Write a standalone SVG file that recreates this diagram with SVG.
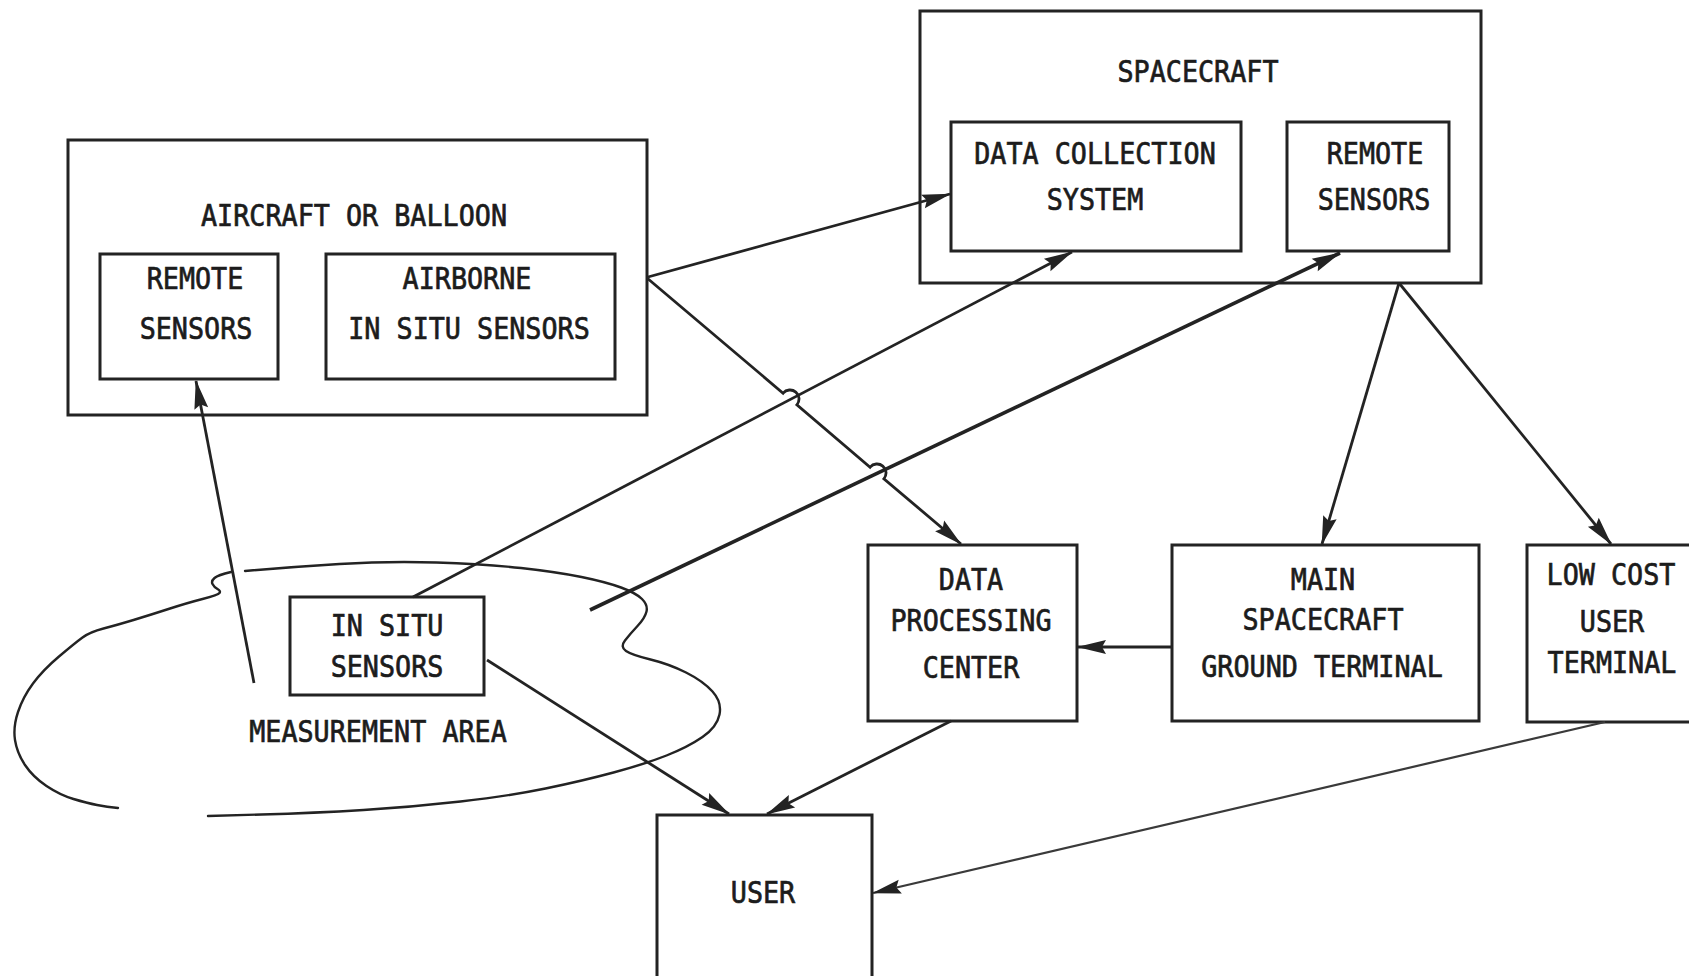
<svg xmlns="http://www.w3.org/2000/svg" width="1689" height="976" viewBox="0 0 1689 976">
<style>
.box{fill:none;stroke:#232323;stroke-width:3}
.ln{fill:none;stroke:#232323;stroke-width:2.8}
.thick{stroke-width:3.6}
.thin{stroke-width:2.2;stroke:#3a3a3a}
.blob{fill:none;stroke:#232323;stroke-width:2.4;stroke-linecap:round}
.t{font-family:"DejaVu Sans Mono","Liberation Mono",monospace;font-size:30px;fill:#1c1c1c;stroke:#1c1c1c;stroke-width:0.7;text-anchor:middle}
</style>
<defs>
<marker id="ah" markerUnits="userSpaceOnUse" viewBox="-32 -9 34 18" markerWidth="34" markerHeight="18" refX="0" refY="0" orient="auto">
<path d="M1,0 L-28,-7 L-24,0 L-28,7 Z" fill="#232323"/>
</marker>
</defs>
<rect width="1689" height="976" fill="#ffffff"/>

<g id="measurement-area">
<path class="blob" d="M245,571 Q291,567 339.5,564 Q388,561 436.5,562.5 Q485,564 521,568 Q557,572 581.5,577 Q606,582 621,587.5 Q636,593 642,599 Q648,605 646.5,611.5 Q645,618 637.5,626 Q630,634 625,640.5 Q620,647 626,651 Q632,655 650.5,659.5 Q669,664 686,672.5 Q703,681 712.5,691.5 Q722,702 719.5,714.5 Q717,727 702.5,737 Q688,747 666.5,755.5 Q645,764 613.5,772.5 Q582,781 545.5,788.5 Q509,796 460.5,801.5 Q412,807 363.5,810 Q315,813 261.5,814.5 L208,816"/>
<path class="blob" d="M231,572 Q218,575 214.5,578 Q211,581 212.5,584 Q214,587 217.5,589 Q221,591 219.5,593 Q218,595 202.5,599 Q187,603 168.5,609 Q150,615 133.5,620 Q117,625 103.5,628.5 Q90,632 82.5,637.5 Q75,643 59,656.5 Q43,670 33,683.5 Q23,697 18,712 Q13,727 15,740 Q17,753 25,765 Q33,777 46.5,786 Q60,795 73.5,799 Q87,803 97,805 Q107,807 118,808"/>
<text class="t" x="378" y="742" textLength="257.6" lengthAdjust="spacingAndGlyphs">MEASUREMENT AREA</text>
</g>

<g id="aircraft">
<rect class="box" x="68" y="140" width="579" height="275"/>
<text class="t" x="354" y="226" textLength="306" lengthAdjust="spacingAndGlyphs">AIRCRAFT OR BALLOON</text>
</g>
<g id="aircraft-remote-sensors">
<rect class="box" x="100" y="254" width="178" height="125"/>
<text class="t" x="195" y="289" textLength="96.6" lengthAdjust="spacingAndGlyphs">REMOTE</text>
<text class="t" x="196" y="339" textLength="112.7" lengthAdjust="spacingAndGlyphs">SENSORS</text>
</g>
<g id="airborne-in-situ">
<rect class="box" x="326" y="254" width="289" height="125"/>
<text class="t" x="467" y="289" textLength="128.8" lengthAdjust="spacingAndGlyphs">AIRBORNE</text>
<text class="t" x="469" y="339" textLength="241.5" lengthAdjust="spacingAndGlyphs">IN SITU SENSORS</text>
</g>

<g id="spacecraft">
<rect class="box" x="920" y="11" width="561" height="272"/>
<text class="t" x="1198" y="82" textLength="161" lengthAdjust="spacingAndGlyphs">SPACECRAFT</text>
</g>
<g id="data-collection-system">
<rect class="box" x="951" y="122" width="290" height="129"/>
<text class="t" x="1095" y="164" textLength="241.5" lengthAdjust="spacingAndGlyphs">DATA COLLECTION</text>
<text class="t" x="1095" y="210" textLength="96.6" lengthAdjust="spacingAndGlyphs">SYSTEM</text>
</g>
<g id="spacecraft-remote-sensors">
<rect class="box" x="1287" y="122" width="162" height="129"/>
<text class="t" x="1375" y="164" textLength="96.6" lengthAdjust="spacingAndGlyphs">REMOTE</text>
<text class="t" x="1374" y="210" textLength="112.7" lengthAdjust="spacingAndGlyphs">SENSORS</text>
</g>

<g id="in-situ-sensors">
<rect class="box" x="290" y="597" width="194" height="98"/>
<text class="t" x="387" y="636" textLength="112.7" lengthAdjust="spacingAndGlyphs">IN SITU</text>
<text class="t" x="387" y="677" textLength="112.7" lengthAdjust="spacingAndGlyphs">SENSORS</text>
</g>

<g id="data-processing-center">
<rect class="box" x="868" y="545" width="209" height="176"/>
<text class="t" x="971" y="590" textLength="64.4" lengthAdjust="spacingAndGlyphs">DATA</text>
<text class="t" x="971" y="631" textLength="161" lengthAdjust="spacingAndGlyphs">PROCESSING</text>
<text class="t" x="971" y="678" textLength="96.6" lengthAdjust="spacingAndGlyphs">CENTER</text>
</g>
<g id="main-ground-terminal">
<rect class="box" x="1172" y="545" width="307" height="176"/>
<text class="t" x="1323" y="590" textLength="64.4" lengthAdjust="spacingAndGlyphs">MAIN</text>
<text class="t" x="1323" y="630" textLength="161" lengthAdjust="spacingAndGlyphs">SPACECRAFT</text>
<text class="t" x="1322" y="677" textLength="241.5" lengthAdjust="spacingAndGlyphs">GROUND TERMINAL</text>
</g>
<g id="low-cost-user-terminal">
<path class="box" d="M1700,545 H1527 V722 H1700"/>
<text class="t" x="1611" y="585" textLength="128.8" lengthAdjust="spacingAndGlyphs">LOW COST</text>
<text class="t" x="1612" y="632" textLength="64.4" lengthAdjust="spacingAndGlyphs">USER</text>
<text class="t" x="1612" y="673" textLength="128.8" lengthAdjust="spacingAndGlyphs">TERMINAL</text>
</g>
<g id="user">
<path class="box" d="M657,985 V815 H872 V985"/>
<text class="t" x="763" y="903" textLength="64.4" lengthAdjust="spacingAndGlyphs">USER</text>
</g>

<g id="connectors">
<path class="ln" d="M648,277 L950,194" marker-end="url(#ah)"/>
<path class="ln" d="M413,597 L1072,252" marker-end="url(#ah)"/>
<path class="ln thick" d="M590,610 L1340,253" marker-end="url(#ah)"/>
<path class="ln" d="M647,278 L783.1,393.2 A9,9 0 0 1 796.9,404.8 L870.1,467.2 A9,9 0 0 1 883.9,478.8 L961,544" marker-end="url(#ah)"/>
<path class="ln" d="M1399,283 L1322,544" marker-end="url(#ah)"/>
<path class="ln" d="M1399,283 L1611,544" marker-end="url(#ah)"/>
<path class="ln" d="M1172,647 L1078,647" marker-end="url(#ah)"/>
<path class="ln" d="M951,721 L767,814" marker-end="url(#ah)"/>
<path class="ln" d="M487,660 L729,814" marker-end="url(#ah)"/>
<path class="ln thin" d="M1605,722 L873,893" marker-end="url(#ah)"/>
<path class="ln" d="M254,683 L196,381" marker-end="url(#ah)"/>
</g>
</svg>
